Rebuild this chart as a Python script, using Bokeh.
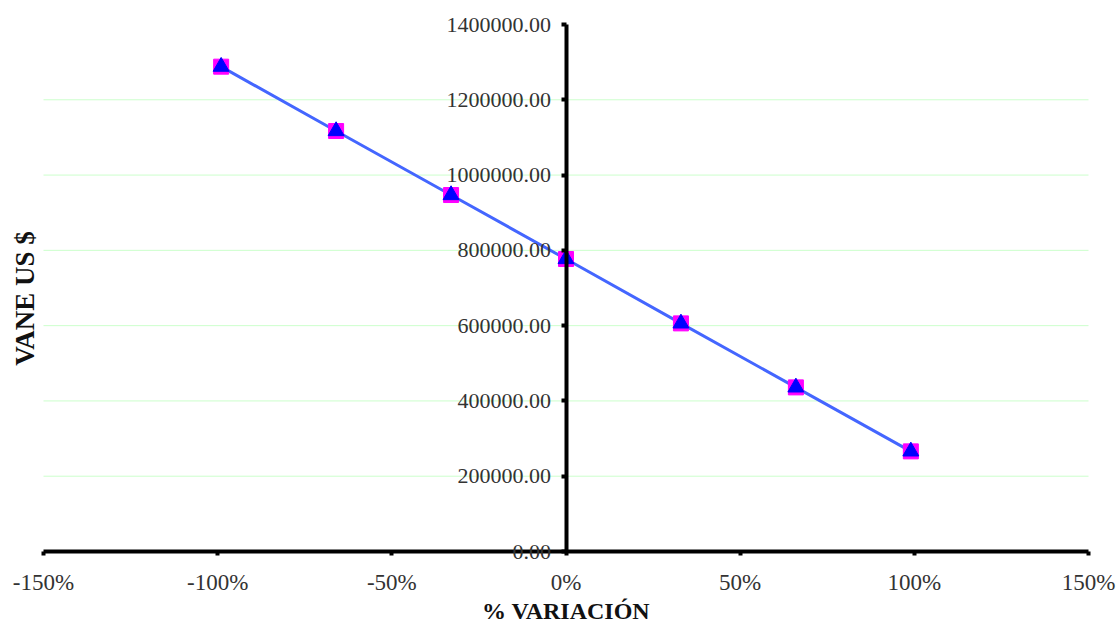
import math
from bokeh.plotting import figure
from bokeh.embed import file_html
from bokeh.resources import INLINE
from bokeh.models import NumeralTickFormatter, FixedTicker, Range1d, Label

variation = [-0.99, -0.66, -0.33, 0.0, 0.33, 0.66, 0.99]
vane = [1288000, 1117000, 947000, 777000, 606000, 436000, 266000]
x_ticks = [-1.5, -1.0, -0.5, 0.0, 0.5, 1.0, 1.5]
y_ticks = [0, 200000, 400000, 600000, 800000, 1000000, 1200000, 1400000]

FONT = "Liberation Serif"
W, H = 1120, 624
# axis extents (data) and where they sit on the page (pixels)
X_MIN, X_MAX = -1.5, 1.5
Y_MIN, Y_MAX = 0, 1400000
PX_LEFT, PX_RIGHT, PX_TOP, PX_BOTTOM = 43, 1088, 24, 551

sx = (X_MAX - X_MIN) / (PX_RIGHT - PX_LEFT)
sy = (Y_MAX - Y_MIN) / (PX_BOTTOM - PX_TOP)
x_range = Range1d(X_MIN - PX_LEFT * sx, X_MAX + (W - PX_RIGHT) * sx)
y_range = Range1d(Y_MIN - (H - PX_BOTTOM) * sy, Y_MAX + PX_TOP * sy)

p = figure(width=W, height=H, output_backend="svg", toolbar_location=None,
           x_range=x_range, y_range=y_range,
           min_border_left=0, min_border_right=0, min_border_top=0, min_border_bottom=0)
p.title.visible = False
p.outline_line_color = None
p.background_fill_color = "white"

# horizontal gridlines, limited to the axis extent
p.xgrid.visible = False
p.ygrid.visible = False
grid_ys = y_ticks[1:-1]
p.segment(x0=[X_MIN] * len(grid_ys), x1=[X_MAX] * len(grid_ys), y0=grid_ys, y1=grid_ys,
          line_color="#CCFFCC", line_width=1)

# x axis crossing at y = 0
p.xaxis.fixed_location = 0
p.xaxis.bounds = (X_MIN, X_MAX)
p.xaxis.ticker = FixedTicker(ticks=x_ticks)
p.xaxis.formatter = NumeralTickFormatter(format="0%")
p.xaxis.axis_line_width = 4
p.xaxis.axis_line_color = "black"
p.xaxis.major_tick_line_width = 4
p.xaxis.major_tick_out = 4
p.xaxis.major_tick_in = 0
p.xaxis.minor_tick_line_color = None
p.xaxis.major_label_text_font = FONT
p.xaxis.major_label_text_font_size = "23px"
p.xaxis.major_label_text_color = "#333333"
p.xaxis.major_label_standoff = 14
p.xaxis.axis_label = "% VARIACIÓN"
p.xaxis.axis_label_text_font = FONT
p.xaxis.axis_label_text_font_style = "bold"
p.xaxis.axis_label_text_font_size = "24px"
p.xaxis.axis_label_text_color = "#111111"
p.xaxis.axis_label_standoff = 0

# y axis crossing at x = 0
p.yaxis.fixed_location = 0
p.yaxis.bounds = (Y_MIN, Y_MAX)
p.yaxis.ticker = FixedTicker(ticks=y_ticks)
p.yaxis.formatter = NumeralTickFormatter(format="0.00")
p.yaxis.axis_line_width = 4
p.yaxis.major_tick_line_width = 4
p.yaxis.major_tick_out = 5
p.yaxis.major_tick_in = 0
p.yaxis.minor_tick_line_color = None
p.yaxis.major_label_text_font = FONT
p.yaxis.major_label_text_font_size = "22px"
p.yaxis.major_label_text_color = "#333333"
p.yaxis.major_label_standoff = 10

p.add_layout(Label(x=X_MIN + (24 - PX_LEFT) * sx, y=Y_MIN + (PX_BOTTOM - 298) * sy,
                   text="VANE US $", angle=math.pi / 2, text_align="center",
                   text_baseline="middle", text_font=FONT, text_font_style="bold",
                   text_font_size="27px", text_color="#111111"))

p.line(variation, vane, line_color="#4466FF", line_width=3)
p.scatter(variation, vane, marker="square", size=15, fill_color="#FF00FF", line_color="#FF00FF")
p.scatter(variation, vane, marker="triangle", size=16, fill_color="#0000FF", line_color="#0000FF")

open("out.html", "w").write(file_html(p, INLINE))
